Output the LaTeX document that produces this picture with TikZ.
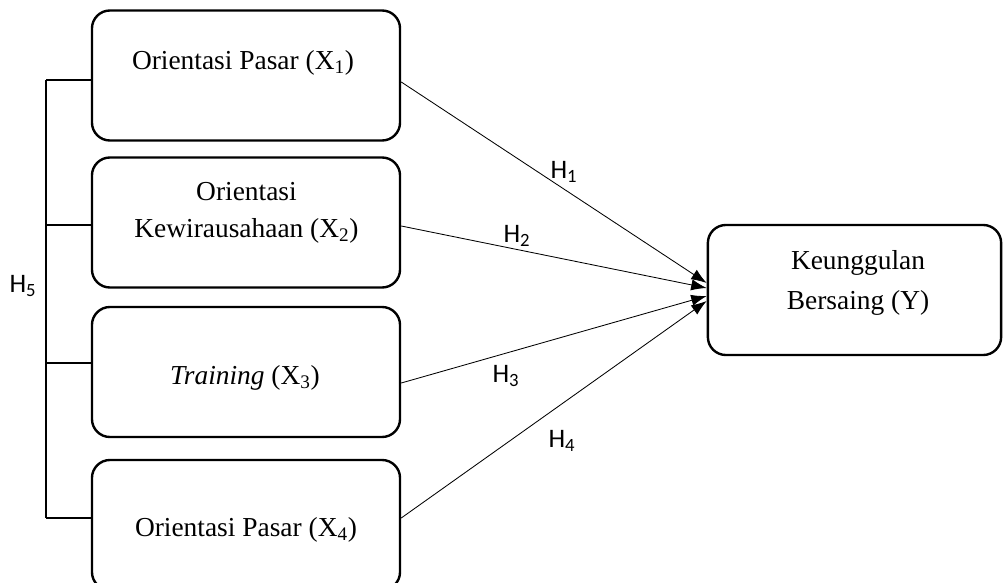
\documentclass[tikz,border=0pt]{standalone}
\usepackage{fontspec}
\setmainfont{Liberation Serif}
\newfontfamily\hfont{Carlito}
\usetikzlibrary{arrows.meta,calc}
\tikzstyle{box}=[draw, rounded corners=0.45cm, line width=1.7pt, minimum width=7.7cm, minimum height=3.25cm]
\tikzstyle{lbl}=[font=\fontsize{19.5}{26}\selectfont, align=center]
\tikzstyle{hyp}=[font=\hfont\fontsize{19}{22}\selectfont]
\tikzset{arr/.style={-{Latex[length=11pt,width=8pt]}, line width=0.6pt}}
\tikzset{bar/.style={line width=0.8pt}}
\tikzset{y=-0.025cm}
\tikzset{x=0.025cm}

\begin{document}
\begin{tikzpicture}
  \useasboundingbox (0,0) rectangle (1003,583);
  %% Variables
  \draw (246,75.5) node[box] (X1) {};
  \draw (246,222.5) node[box] (X2) {};
  \draw (246,372) node[box] (X3) {};
  \draw (246,525) node[box] (X4) {};
  \draw (854.5,290) node[box,minimum width=7.33cm] (Y) {};

  \draw (243,63) node[lbl] (T1) {Orientasi Pasar (X\textsubscript{1})};
  \draw (246.5,213) node[lbl] (T2) {Orientasi\\Kewirausahaan (X\textsubscript{2})};
  \draw (245,378) node[lbl] (T3) {\textit{Training} (X\textsubscript{3})};
  \draw (246,530) node[lbl] (T4) {Orientasi Pasar (X\textsubscript{4})};
  \draw (858,283) node[lbl,font=\fontsize{19.5}{28.5}\selectfont] (TY) {Keunggulan\\Bersaing (Y)};

  %% Simultaneous effect
  \coordinate (b1) at (46,80);
  \coordinate (b2) at (46,225);
  \coordinate (b3) at (46,363);
  \coordinate (b4) at (46,518);
  \draw[bar] (b1) -- (b4);
  \foreach \i in {1,...,4}
    \draw[bar] (b\i) -- (b\i -| X\i.west);
  \draw (23,286) node[hyp] (H5) {H\textsubscript{5}};

  %% Partial effects
  \draw[arr] ($(X1.east)+(0,6.5)$) -- ($(Y.west)+(0,-7)$);
  \draw[arr] ($(X2.east)+(0,3.5)$) -- ($(Y.west)+(0,-2)$);
  \draw[arr] ($(X3.east)+(0,11)$) -- ($(Y.west)+(0,6)$);
  \draw[arr] ($(X4.east)+(0,-7)$) -- ($(Y.west)+(0,11)$);
  \draw (564,172) node[hyp] (H1) {H\textsubscript{1}};
  \draw (517,236) node[hyp] (H2) {H\textsubscript{2}};
  \draw (506,376) node[hyp] (H3) {H\textsubscript{3}};
  \draw (562,441) node[hyp] (H4) {H\textsubscript{4}};
\end{tikzpicture}
\end{document}
